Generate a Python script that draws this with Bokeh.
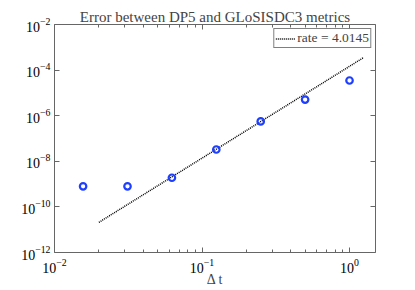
from bokeh.plotting import figure
from bokeh.models import LogAxis, FixedTicker, Legend, LegendItem
from bokeh.embed import file_html
from bokeh.resources import INLINE

# data
dt = [1/64, 1/32, 1/16, 1/8, 1/4, 1/2, 1.0]
err = [8.0e-10, 8.0e-10, 1.9e-9, 3.3e-8, 5.6e-7, 5.1e-6, 3.5e-5]
fit_x = [0.02, 1.25]
fit_y = [2.1e-11, 3.6e-4]
rate_label = "rate = 4.0145"
title_text = "Error between DP5 and GLoSISDC3 metrics"
xlabel = "\u0394 t"
x_lo, x_hi = 0.01, 1.5
y_lo, y_hi = 1e-12, 1e-2

FONT = "Liberation Serif"
AX = "#666666"

p = figure(width=407, height=290, x_axis_type="log", y_axis_type="log",
           x_range=(x_lo, x_hi), y_range=(y_lo, y_hi),
           output_backend="svg", toolbar_location=None,
           min_border_left=54, min_border_right=32, min_border_bottom=38, min_border_top=24)
p.grid.visible = False
p.outline_line_color = AX
p.outline_line_width = 1
p.background_fill_color = "white"
p.border_fill_color = "white"

p.title.text = title_text
p.title.text_font = FONT
p.title.text_font_size = "15px"
p.title.text_font_style = "normal"
p.title.align = "center"
p.title.standoff = 0
p.title.offset = 0

xt = FixedTicker(ticks=[0.01, 0.1, 1.0],
                 minor_ticks=[k * 0.01 for k in range(2, 10)] + [k * 0.1 for k in range(2, 10)] + [k * 1.0 for k in range(2, 10)])
yt = FixedTicker(ticks=[1e-12, 1e-10, 1e-8, 1e-6, 1e-4, 1e-2], minor_ticks=[])

def style(ax, labels=True):
    ax.axis_line_color = None
    ax.major_tick_in = 5
    ax.major_tick_out = 0
    ax.minor_tick_in = 3
    ax.minor_tick_out = 0
    ax.major_tick_line_color = AX
    ax.minor_tick_line_color = AX
    ax.major_label_text_font = FONT
    ax.major_label_text_font_size = "14px" if labels else "1px"
    ax.major_label_text_color = "black" if labels else None
    ax.major_label_standoff = 4 if labels else 0

p.xaxis.ticker = xt
p.yaxis.ticker = yt
style(p.xaxis[0])
style(p.yaxis[0])
p.xaxis[0].major_label_standoff = 6
p.xaxis.axis_label = xlabel
p.xaxis.axis_label_text_font = FONT
p.xaxis.axis_label_text_font_size = "14px"
p.xaxis.axis_label_text_font_style = "normal"
p.xaxis.axis_label_standoff = -4

top = LogAxis(ticker=xt)
style(top, False)
p.add_layout(top, "above")
right = LogAxis(ticker=yt)
style(right, False)
p.add_layout(right, "right")

ln = p.line(fit_x, fit_y, line_color="black", line_width=1.5, line_dash="1 1")
p.scatter(dt, err, marker="circle", size=6.5, fill_color=None,
          line_color="#1f3fff", line_width=2.2)

leg = Legend(items=[LegendItem(label=rate_label, renderers=[ln])], location="top_right")
leg.label_text_font = FONT
leg.label_text_font_size = "13.5px"
leg.border_line_color = "black"
leg.border_line_width = 1
leg.padding = 1
leg.margin = 4
leg.spacing = 0
leg.glyph_width = 20
leg.glyph_height = 15
leg.label_standoff = 2
leg.label_height = 15
p.add_layout(leg)

open("out.html", "w").write(file_html(p, INLINE))
